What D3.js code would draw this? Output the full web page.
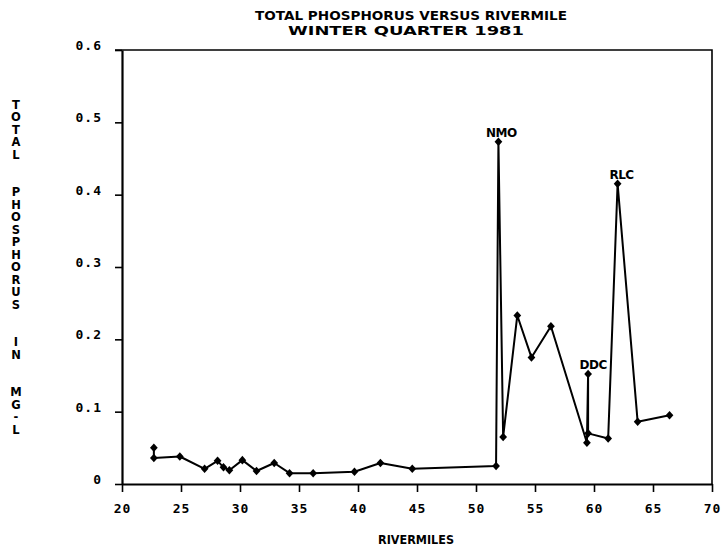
<!DOCTYPE html>
<html>
<head>
<meta charset="utf-8">
<script src="https://cdn.jsdelivr.net/npm/d3@7"></script>
<style>
  html, body { margin: 0; padding: 0; background: #fff; }
  svg { display: block; }
  text { fill: #000; }
</style>
</head>
<body>
<svg id="chart" width="726" height="553"></svg>
<script>
// Sampling stations in the order the trace visits them (river miles)
const rivermiles = [22.7, 22.7, 24.9, 27.0, 28.1, 28.6, 29.1, 30.2, 31.4, 32.9, 34.2, 36.2, 39.7,
                    41.9, 44.6, 51.7, 51.9, 52.3, 53.5, 54.7, 56.35, 59.4, 59.5, 59.5, 61.2, 62.0, 63.7, 66.4];
// Total phosphorus, mg/L
const phosphorus = [0.050, 0.036, 0.038, 0.021, 0.032, 0.023, 0.019, 0.033, 0.018, 0.029, 0.015, 0.015, 0.017,
                    0.029, 0.021, 0.025, 0.473, 0.065, 0.233, 0.175, 0.218, 0.057, 0.152, 0.070, 0.063, 0.415, 0.086, 0.095];
// Named stations (index into the arrays above)
const stationNames = ["NMO", "DDC", "RLC"];
const stationIndex = [16, 22, 25];

const xTicks = [20, 25, 30, 35, 40, 45, 50, 55, 60, 65, 70];
const yTicks = [0, 0.1, 0.2, 0.3, 0.4, 0.5, 0.6];
const titleLines = ["TOTAL PHOSPHORUS VERSUS RIVERMILE", "WINTER QUARTER 1981"];
const yTitleWords = ["TOTAL", "PHOSPHORUS", "IN", "MG-L"];
const xTitle = "RIVERMILES";

const svg = d3.select("#chart");
const plotLeft = 122, plotRight = 712, plotTop = 50, plotBottom = 484;

const x = d3.scaleLinear().domain([20, 70]).range([plotLeft, plotRight]);
const y = d3.scaleLinear().domain([0, 0.6]).range([plotBottom, plotTop]);

const monoFont = "'DejaVu Sans Mono', 'Liberation Mono', monospace";
const labelFont = "'DejaVu Sans', 'Liberation Sans', sans-serif";

// Title, two centred lines
const titleCenters = [411, 406];
const titleWidths = [312, 236];
svg.selectAll("text.title").data(titleLines).join("text")
  .attr("class", "title")
  .attr("x", (d, i) => titleCenters[i])
  .attr("y", (d, i) => 20 + i * 15)
  .attr("text-anchor", "middle")
  .attr("font-family", labelFont)
  .attr("font-weight", "bold")
  .attr("font-size", 13)
  .attr("textLength", (d, i) => titleWidths[i])
  .attr("lengthAdjust", "spacingAndGlyphs")
  .text(d => d);

// Plot frame (top and right edges)
svg.append("path")
  .attr("d", `M${plotLeft - 7},${plotTop}H${plotRight}V${plotBottom}`)
  .attr("fill", "none").attr("stroke", "#000").attr("stroke-width", 1.6);

// Axes
const yAxis = d3.axisLeft(y).tickValues(yTicks).tickSize(7).tickSizeOuter(0)
  .tickFormat(d => d === 0 ? "0" : d3.format(".1f")(d));
const xAxis = d3.axisBottom(x).tickValues(xTicks).tickSize(8).tickSizeOuter(0);

const gy = svg.append("g").attr("transform", `translate(${plotLeft},0)`).call(yAxis);
const gx = svg.append("g").attr("transform", `translate(0,${plotBottom})`).call(xAxis);

[gx, gy].forEach(g => {
  g.select(".domain").attr("stroke", "#000").attr("stroke-width", 2.2);
  g.selectAll(".tick line").attr("stroke", "#000").attr("stroke-width", 1.6);
  g.selectAll(".tick text")
    .attr("font-family", monoFont)
    .attr("font-weight", "bold")
    .attr("font-size", 13)
    .attr("letter-spacing", 1)
    .attr("fill", "#000");
});
gy.selectAll(".tick text").attr("x", -20).attr("dy", "-0.05em");
gx.selectAll(".tick text").attr("y", 20);

// X axis title
svg.append("text")
  .attr("x", 416).attr("y", 544)
  .attr("text-anchor", "middle")
  .attr("font-family", labelFont)
  .attr("font-weight", "bold")
  .attr("font-size", 13)
  .attr("textLength", 76)
  .attr("lengthAdjust", "spacingAndGlyphs")
  .text(xTitle);

// Y axis title, letters stacked vertically and centred on the axis
const yLetters = [];
yTitleWords.forEach((w, wi) => {
  if (wi > 0) { yLetters.push(" "); yLetters.push(" "); }
  w.split("").forEach(c => yLetters.push(c));
});
const letterPitch = 12.5;
const midRow = (yLetters.length - 1) / 2;
const axisMid = (plotTop + plotBottom) / 2;
svg.append("g").selectAll("text").data(yLetters).join("text")
  .attr("x", 16)
  .attr("y", (d, i) => axisMid + (i - midRow) * letterPitch)
  .attr("dy", "0.36em")
  .attr("text-anchor", "middle")
  .attr("font-family", labelFont)
  .attr("font-weight", "bold")
  .attr("font-size", 11.5)
  .text(d => d);

// Trace
const pts = rivermiles.map((r, i) => [r, phosphorus[i]]);
svg.append("path")
  .datum(pts)
  .attr("fill", "none")
  .attr("stroke", "#000")
  .attr("stroke-width", 2)
  .attr("stroke-linejoin", "round")
  .attr("d", d3.line().x(d => x(d[0])).y(d => y(d[1])));

// Diamond markers
const diamond = {
  draw(ctx, size) {
    const h = Math.sqrt(size) / 2;
    ctx.moveTo(0, -h * 1.1);
    ctx.lineTo(h, 0);
    ctx.lineTo(0, h * 1.1);
    ctx.lineTo(-h, 0);
    ctx.closePath();
  }
};
svg.append("g").selectAll("path").data(pts).join("path")
  .attr("transform", d => `translate(${x(d[0])},${y(d[1])})`)
  .attr("d", d3.symbol().type(diamond).size(60))
  .attr("fill", "#000");

// Station labels
svg.append("g").selectAll("text").data(stationIndex).join("text")
  .attr("x", (d, i) => x(rivermiles[d]) + (i === 0 ? 3 : i === 1 ? 5 : 4))
  .attr("y", d => y(phosphorus[d]) - 5)
  .attr("text-anchor", "middle")
  .attr("font-family", labelFont)
  .attr("font-weight", "bold")
  .attr("font-size", 12)
  .attr("letter-spacing", -0.5)
  .text((d, i) => stationNames[i]);
</script>
</body>
</html>
